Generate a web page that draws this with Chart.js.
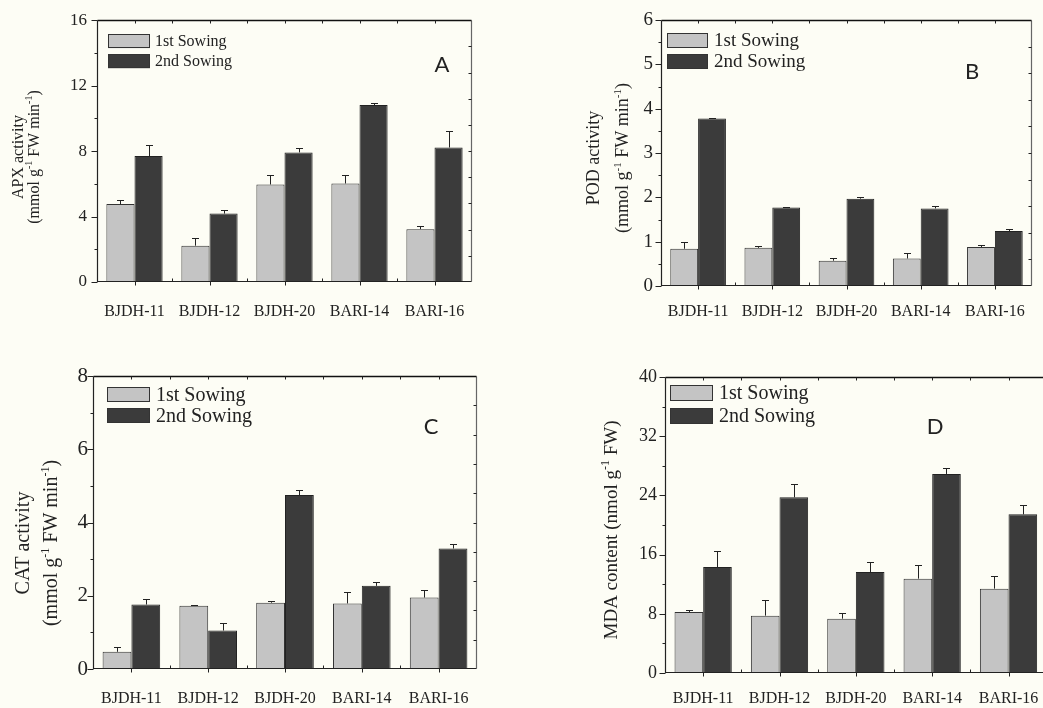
<!DOCTYPE html>
<html>
<head>
<meta charset="utf-8">
<script src="https://cdn.jsdelivr.net/npm/chart.js@4.4.1/dist/chart.umd.min.js"></script>
<style>
  html, body { margin: 0; padding: 0; background: #fdfdf5; overflow: hidden; }
  body { width: 1043px; height: 708px; position: relative; }
  .panel { position: absolute; }
</style>
</head>
<body>
<div class="panel" style="left:0;top:0"><canvas id="graficoAPX" width="520" height="340"></canvas></div>
<div class="panel" style="left:520px;top:0"><canvas id="graficoPOD" width="523" height="340"></canvas></div>
<div class="panel" style="left:0;top:350px"><canvas id="graficoCAT" width="520" height="358"></canvas></div>
<div class="panel" style="left:520px;top:350px"><canvas id="graficoMDA" width="535" height="358"></canvas></div>
<script>
// Variedades y series
const variedades = ['BJDH-11', 'BJDH-12', 'BJDH-20', 'BARI-14', 'BARI-16'];
const series = ['1st Sowing', '2nd Sowing'];

const apxPrimera = [4.76, 2.22, 5.96, 6.02, 3.23];
const apxPrimeraErr = [0.27, 0.49, 0.59, 0.53, 0.22];
const apxSegunda = [7.70, 4.18, 7.92, 10.81, 8.22];
const apxSegundaErr = [0.66, 0.24, 0.30, 0.10, 1.03];

const podPrimera = [0.84, 0.86, 0.57, 0.62, 0.88];
const podPrimeraErr = [0.15, 0.04, 0.06, 0.12, 0.05];
const podSegunda = [3.78, 1.77, 1.97, 1.75, 1.24];
const podSegundaErr = [0.02, 0.01, 0.04, 0.06, 0.05];

const catPrimera = [0.47, 1.73, 1.81, 1.79, 1.95];
const catPrimeraErr = [0.12, 0.03, 0.04, 0.31, 0.20];
const catSegunda = [1.76, 1.05, 4.75, 2.27, 3.29];
const catSegundaErr = [0.16, 0.21, 0.15, 0.11, 0.12];

const mdaPrimera = [8.24, 7.75, 7.34, 12.75, 11.40];
const mdaPrimeraErr = [0.32, 2.05, 0.76, 1.89, 1.70];
const mdaSegunda = [14.32, 23.74, 13.65, 26.90, 21.44];
const mdaSegundaErr = [2.10, 1.76, 1.35, 0.85, 1.31];

// Escalas del eje y: [máximo, paso]
const escalaAPX = [16, 4];
const escalaPOD = [6, 1];
const escalaCAT = [8, 2];
const escalaMDA = [40, 8];

const SERIF = '"Liberation Serif", "Times New Roman", serif';
const COLOR_CLARO = '#c4c4c4';
const COLOR_OSCURO = '#3b3b3b';

// Texto con superíndices, centrado en el origen actual
function textoRico(ctx, partes, size) {
    const supSize = Math.round(size * 0.62);
    let total = 0;
    partes.forEach(p => {
        const sup = typeof p !== 'string';
        ctx.font = (sup ? supSize : size) + 'px ' + SERIF;
        total += ctx.measureText(sup ? p.sup : p).width;
    });
    let x = -total / 2;
    partes.forEach(p => {
        const sup = typeof p !== 'string';
        const t = sup ? p.sup : p;
        ctx.font = (sup ? supSize : size) + 'px ' + SERIF;
        ctx.fillText(t, x, sup ? size * 0.35 - size * 0.42 : size * 0.35);
        x += ctx.measureText(t).width;
    });
}

// Barras de error, marco, marcas de los ejes, leyenda y títulos
const decoracion = {
    id: 'decoracion',
    afterDatasetsDraw(chart) {
        const { ctx, scales: { y } } = chart;
        ctx.save();
        ctx.strokeStyle = '#222';
        ctx.lineWidth = 1;
        chart.data.datasets.forEach((ds, di) => {
            chart.getDatasetMeta(di).data.forEach((bar, i) => {
                const yTop = Math.round(y.getPixelForValue(ds.data[i] + ds.errores[i])) + 0.5;
                const bx = Math.round(bar.x) + 0.5;
                ctx.beginPath();
                ctx.moveTo(bx, bar.y);
                ctx.lineTo(bx, yTop);
                ctx.moveTo(bx - 3.5, yTop);
                ctx.lineTo(bx + 3.5, yTop);
                ctx.stroke();
            });
        });
        ctx.restore();
    },
    afterDraw(chart, args, opts) {
        const { ctx, chartArea: a, scales: { x, y } } = chart;
        const L = Math.round(a.left) + 0.5, R = Math.round(a.right) - 0.5;
        const T = Math.round(a.top) + 0.5, B = Math.round(a.bottom) - 0.5;
        ctx.save();

        // marco
        ctx.lineWidth = 1.2;
        ctx.strokeStyle = '#666';
        ctx.beginPath(); ctx.moveTo(R, T); ctx.lineTo(R, B); ctx.stroke();
        ctx.strokeStyle = '#111';
        ctx.lineWidth = 1.6;
        ctx.beginPath(); ctx.moveTo(L, T); ctx.lineTo(R, T); ctx.stroke();
        ctx.lineWidth = 1.2;
        ctx.strokeStyle = '#222';
        ctx.beginPath(); ctx.moveTo(L, T); ctx.lineTo(L, B); ctx.lineTo(R, B); ctx.stroke();

        // marcas eje y izquierdo (mayores y menores)
        ctx.lineWidth = 1;
        const paso = y.options.ticks.stepSize;
        ctx.beginPath();
        for (let v = y.min; v <= y.max + 1e-9; v += paso / 2) {
            const py = Math.round(y.getPixelForValue(v)) + 0.5;
            const mayor = Math.abs(v / paso - Math.round(v / paso)) < 1e-6;
            ctx.moveTo(L - (mayor ? 6 : 3), py);
            ctx.lineTo(L, py);
        }
        // marcas derecha y arriba, hacia dentro
        for (let k = 1; k < 10; k++) {
            const py = Math.round(a.top + (a.bottom - a.top) * k / 10) + 0.5;
            ctx.moveTo(R - 3, py);
            ctx.lineTo(R, py);
            const px = Math.round(a.left + (a.right - a.left) * k / 10) + 0.5;
            ctx.moveTo(px, T);
            ctx.lineTo(px, T + 3);
        }
        // marcas eje x
        const n = x.ticks.length;
        for (let i = 0; i < n; i++) {
            const px = Math.round(x.getPixelForTick(i)) + 0.5;
            ctx.moveTo(px, B);
            ctx.lineTo(px, B + 4);
            if (i < n - 1) {
                const pm = Math.round((x.getPixelForTick(i) + x.getPixelForTick(i + 1)) / 2) + 0.5;
                ctx.moveTo(pm, B - 3);
                ctx.lineTo(pm, B);
            }
        }
        ctx.stroke();

        // leyenda
        const ley = opts.leyenda;
        chart.data.datasets.forEach((ds, di) => {
            const bx = a.left + ley.x, by = a.top + ley.y + di * ley.gap;
            ctx.fillStyle = ds.backgroundColor;
            ctx.fillRect(bx, by, ley.w, ley.h);
            ctx.strokeStyle = '#333';
            ctx.lineWidth = 1;
            ctx.strokeRect(Math.round(bx) + 0.5, Math.round(by) + 0.5, ley.w - 1, ley.h - 1);
            ctx.fillStyle = '#222';
            ctx.font = ley.size + 'px ' + SERIF;
            ctx.textAlign = 'left';
            ctx.textBaseline = 'middle';
            ctx.fillText(ds.label, bx + ley.texto, by + ley.h / 2 + 1);
        });

        // letra del panel
        ctx.fillStyle = '#222';
        ctx.font = '22px Lato, "Open Sans", sans-serif';
        ctx.textAlign = 'center';
        ctx.textBaseline = 'middle';
        ctx.fillText(opts.letra.t, opts.letra.x, opts.letra.y);

        // título del eje y
        ctx.textAlign = 'left';
        ctx.textBaseline = 'alphabetic';
        opts.titulo.forEach(linea => {
            ctx.save();
            ctx.translate(linea.x, linea.y);
            ctx.rotate(-Math.PI / 2);
            textoRico(ctx, linea.partes, linea.size);
            ctx.restore();
        });
        ctx.restore();
    }
};

function datosPanel(primera, primeraErr, segunda, segundaErr) {
    return {
        labels: variedades,
        datasets: [{
            label: series[0],
            data: primera,
            errores: primeraErr,
            backgroundColor: COLOR_CLARO,
            borderColor: '#333',
            borderWidth: 1
        }, {
            label: series[1],
            data: segunda,
            errores: segundaErr,
            backgroundColor: COLOR_OSCURO,
            borderColor: '#222',
            borderWidth: 1
        }]
    };
}

function opcionesPanel(cfg) {
    return {
        responsive: false,
        animation: false,
        devicePixelRatio: 1,
        layout: { padding: cfg.padding },
        datasets: { bar: { categoryPercentage: 0.75, barPercentage: 1 } },
        plugins: {
            legend: { display: false },
            tooltip: { enabled: false },
            decoracion: cfg.decor
        },
        scales: {
            x: {
                grid: { display: false, drawTicks: false },
                border: { display: false },
                ticks: { font: { family: SERIF, size: 16 }, color: '#222', padding: cfg.xPad, maxRotation: 0, autoSkip: false },
                afterFit: s => { s.height = cfg.xAlto; }
            },
            y: {
                min: 0,
                max: cfg.escala[0],
                grid: { display: false, drawTicks: false },
                border: { display: false },
                ticks: { stepSize: cfg.escala[1], font: { family: SERIF, size: cfg.yFuente }, color: '#222', padding: cfg.yPad },
                afterFit: s => { s.width = cfg.yAncho; }
            }
        }
    };
}

// Gráfico APX
new Chart(document.getElementById('graficoAPX'), {
    type: 'bar',
    data: datosPanel(apxPrimera, apxPrimeraErr, apxSegunda, apxSegundaErr),
    options: opcionesPanel({
        escala: escalaAPX,
        padding: { top: 18, right: 48, left: 0, bottom: 0 },
        yAncho: 97, xAlto: 58, yFuente: 17, yPad: 10, xPad: 20,
        decor: {
            leyenda: { x: 11, y: 14, w: 42, h: 14, gap: 20, texto: 47, size: 16 },
            letra: { t: 'A', x: 442, y: 65 },
            titulo: [
                { x: 17, y: 157, size: 16, partes: ['APX activity'] },
                { x: 33, y: 157, size: 16, partes: ['(mmol g', { sup: '-1' }, ' FW min', { sup: '-1' }, ')'] }
            ]
        }
    }),
    plugins: [decoracion]
});

// Gráfico POD
new Chart(document.getElementById('graficoPOD'), {
    type: 'bar',
    data: datosPanel(podPrimera, podPrimeraErr, podSegunda, podSegundaErr),
    options: opcionesPanel({
        escala: escalaPOD,
        padding: { top: 20, right: 11, left: 0, bottom: 0 },
        yAncho: 141, xAlto: 54, yFuente: 19, yPad: 8, xPad: 16,
        decor: {
            leyenda: { x: 6, y: 13, w: 41, h: 15, gap: 21, texto: 47, size: 19 },
            letra: { t: 'B', x: 452, y: 72 },
            titulo: [
                { x: 73, y: 158, size: 18, partes: ['POD activity'] },
                { x: 102, y: 158, size: 18, partes: ['(mmol g', { sup: '-1' }, ' FW min', { sup: '-1' }, ')'] }
            ]
        }
    }),
    plugins: [decoracion]
});

// Gráfico CAT
new Chart(document.getElementById('graficoCAT'), {
    type: 'bar',
    data: datosPanel(catPrimera, catPrimeraErr, catSegunda, catSegundaErr),
    options: opcionesPanel({
        escala: escalaCAT,
        padding: { top: 26, right: 43, left: 0, bottom: 0 },
        yAncho: 93, xAlto: 39, yFuente: 21, yPad: 5, xPad: 20,
        decor: {
            leyenda: { x: 14, y: 11, w: 43, h: 15, gap: 21, texto: 49, size: 20 },
            letra: { t: 'C', x: 431, y: 77 },
            titulo: [
                { x: 22, y: 193, size: 20, partes: ['CAT activity'] },
                { x: 50, y: 193, size: 20, partes: ['(mmol g', { sup: '-1' }, ' FW min', { sup: '-1' }, ')'] }
            ]
        }
    }),
    plugins: [decoracion]
});

// Gráfico MDA (el borde derecho queda fuera de la página)
new Chart(document.getElementById('graficoMDA'), {
    type: 'bar',
    data: datosPanel(mdaPrimera, mdaPrimeraErr, mdaSegunda, mdaSegundaErr),
    options: opcionesPanel({
        escala: escalaMDA,
        padding: { top: 27, right: 7, left: 0, bottom: 0 },
        yAncho: 145, xAlto: 35, yFuente: 18, yPad: 8, xPad: 16,
        decor: {
            leyenda: { x: 5, y: 8, w: 43, h: 16, gap: 23, texto: 49, size: 20 },
            letra: { t: 'D', x: 415, y: 77 },
            titulo: [
                { x: 90, y: 180, size: 19, partes: ['MDA content (nmol g', { sup: '-1' }, ' FW)'] }
            ]
        }
    }),
    plugins: [decoracion]
});
</script>
</body>
</html>
